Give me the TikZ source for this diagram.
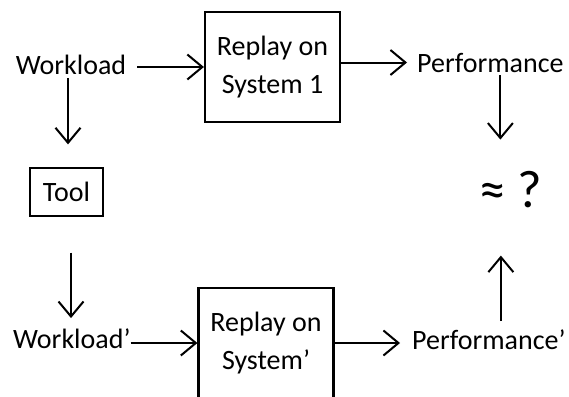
\documentclass[tikz,border=0pt]{standalone}
\usepackage{fontspec}
\setmainfont{Carlito}
\usetikzlibrary{arrows.meta}

\tikzset{
  lbl/.style={font=\fontsize{28}{38}\selectfont, inner sep=0pt},
  replay/.style={lbl, draw, line width=2.2pt, align=center, minimum width=135pt, minimum height=110pt},
  arr/.style={line width=2pt, -{Straight Barb[length=15pt, width=25pt, line width=2pt]}}
}

\begin{document}
\begin{tikzpicture}[x=1pt, y=-1pt]
  \useasboundingbox (0,0) rectangle (569,396);

  % top row
  \node[lbl, anchor=base] (work) at (71,74) {Workload};
  \node[replay] (box1) at (272.5,67) {Replay on\\System 1};
  \node[lbl, anchor=base west] (perf) at (417,72) {Performance};

  % tool
  \node[lbl, draw, line width=1.3pt, minimum width=73pt, minimum height=48pt] (tool) at (66.5,192) {Tool};

  % bottom row
  \node[lbl, anchor=base west] (work2) at (13,348) {Workload’};
  \node[replay] (box2) at (266,343) {Replay on\\System’};
  \node[lbl, anchor=base west] (perf2) at (412,349) {Performance’};

  % comparison
  \node[font=\fontsize{53}{53}\selectfont, inner sep=0pt, anchor=base] (cmp) at (511,207) {≈ ?};

  \draw[arr, shorten <=11pt] (box1.west -| work.east) -- (box1.west);
  \draw[arr, shorten >=10pt] (perf.west -| box1.east) -- (perf.west);
  \draw[arr, shorten <=4pt, shorten >=23pt] ([xshift=1.5pt]work.south -| tool.north) -- ([xshift=1.5pt]tool.north);
  \draw[arr, shorten <=36pt, shorten >=10pt] ([xshift=4.5pt]tool.south) -- ([xshift=4.5pt]tool.south |- work2.north);
  \draw[arr] (box2.west -| work2.east) -- (box2.west);
  \draw[arr, shorten >=12pt] (box2.east) -- (box2.east -| perf2.west);
  \draw[arr, shorten <=3pt, shorten >=31pt] ([xshift=10pt]perf.south) -- ([xshift=10pt]perf.south |- cmp.north);
  \draw[arr, shorten <=8pt, shorten >=48pt] ([xshift=12pt]perf2.north) -- ([xshift=12pt]perf2.north |- cmp.south);
\end{tikzpicture}
\end{document}
